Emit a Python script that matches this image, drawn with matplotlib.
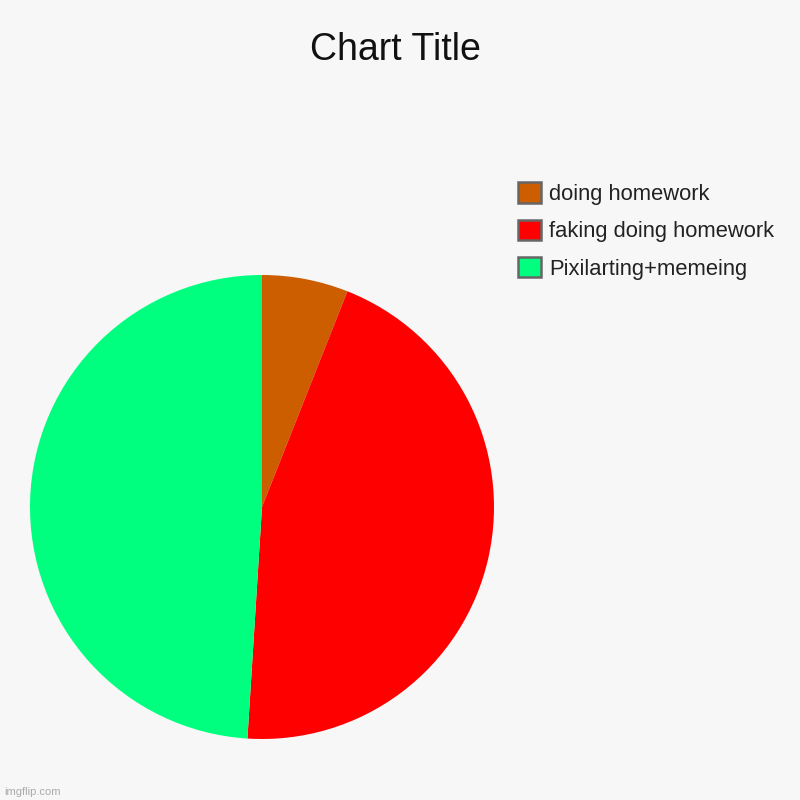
import matplotlib
matplotlib.use("Agg")
import matplotlib.pyplot as plt
from matplotlib.patches import Patch

plt.rcParams['font.family'] = ['Liberation Sans', 'DejaVu Sans']

labels = ['doing homework', 'faking doing homework', 'Pixilarting+memeing']
values = [6, 45, 49]
colors = ['#cc5e00', '#ff0000', '#00ff7f']

bg = '#f7f7f7'
fig = plt.figure(figsize=(8, 8), dpi=100, facecolor=bg)

# pie axes
ax = fig.add_axes([0.0375, 0.07625, 0.58, 0.58])
ax.set_facecolor(bg)
ax.pie(values, colors=colors, startangle=90, counterclock=False,
       wedgeprops={'linewidth': 0})
ax.set_xlim(-1, 1)
ax.set_ylim(-1, 1)
ax.set_aspect('equal')
ax.axis('off')

fig.text(0.494, 0.937, 'Chart Title', ha='center', va='center', fontsize=27, color='#111111')

# legend
handles = [Patch(facecolor=c, edgecolor='#666666', linewidth=1.8) for c in colors]
leg = fig.legend(handles, labels, loc='upper left', bbox_to_anchor=(0.6475, 0.772),
                 frameon=False, fontsize=15.8, handlelength=1.05, handleheight=1.05,
                 handletextpad=0.37, labelspacing=0.67, borderaxespad=0, borderpad=0)
for t in leg.get_texts():
    t.set_color('#222222')

fig.text(0.005, 0.004, 'imgflip.com', fontsize=8, color='#aaaaaa', ha='left', va='bottom')

fig.savefig('out.png', dpi=100, facecolor=bg)
